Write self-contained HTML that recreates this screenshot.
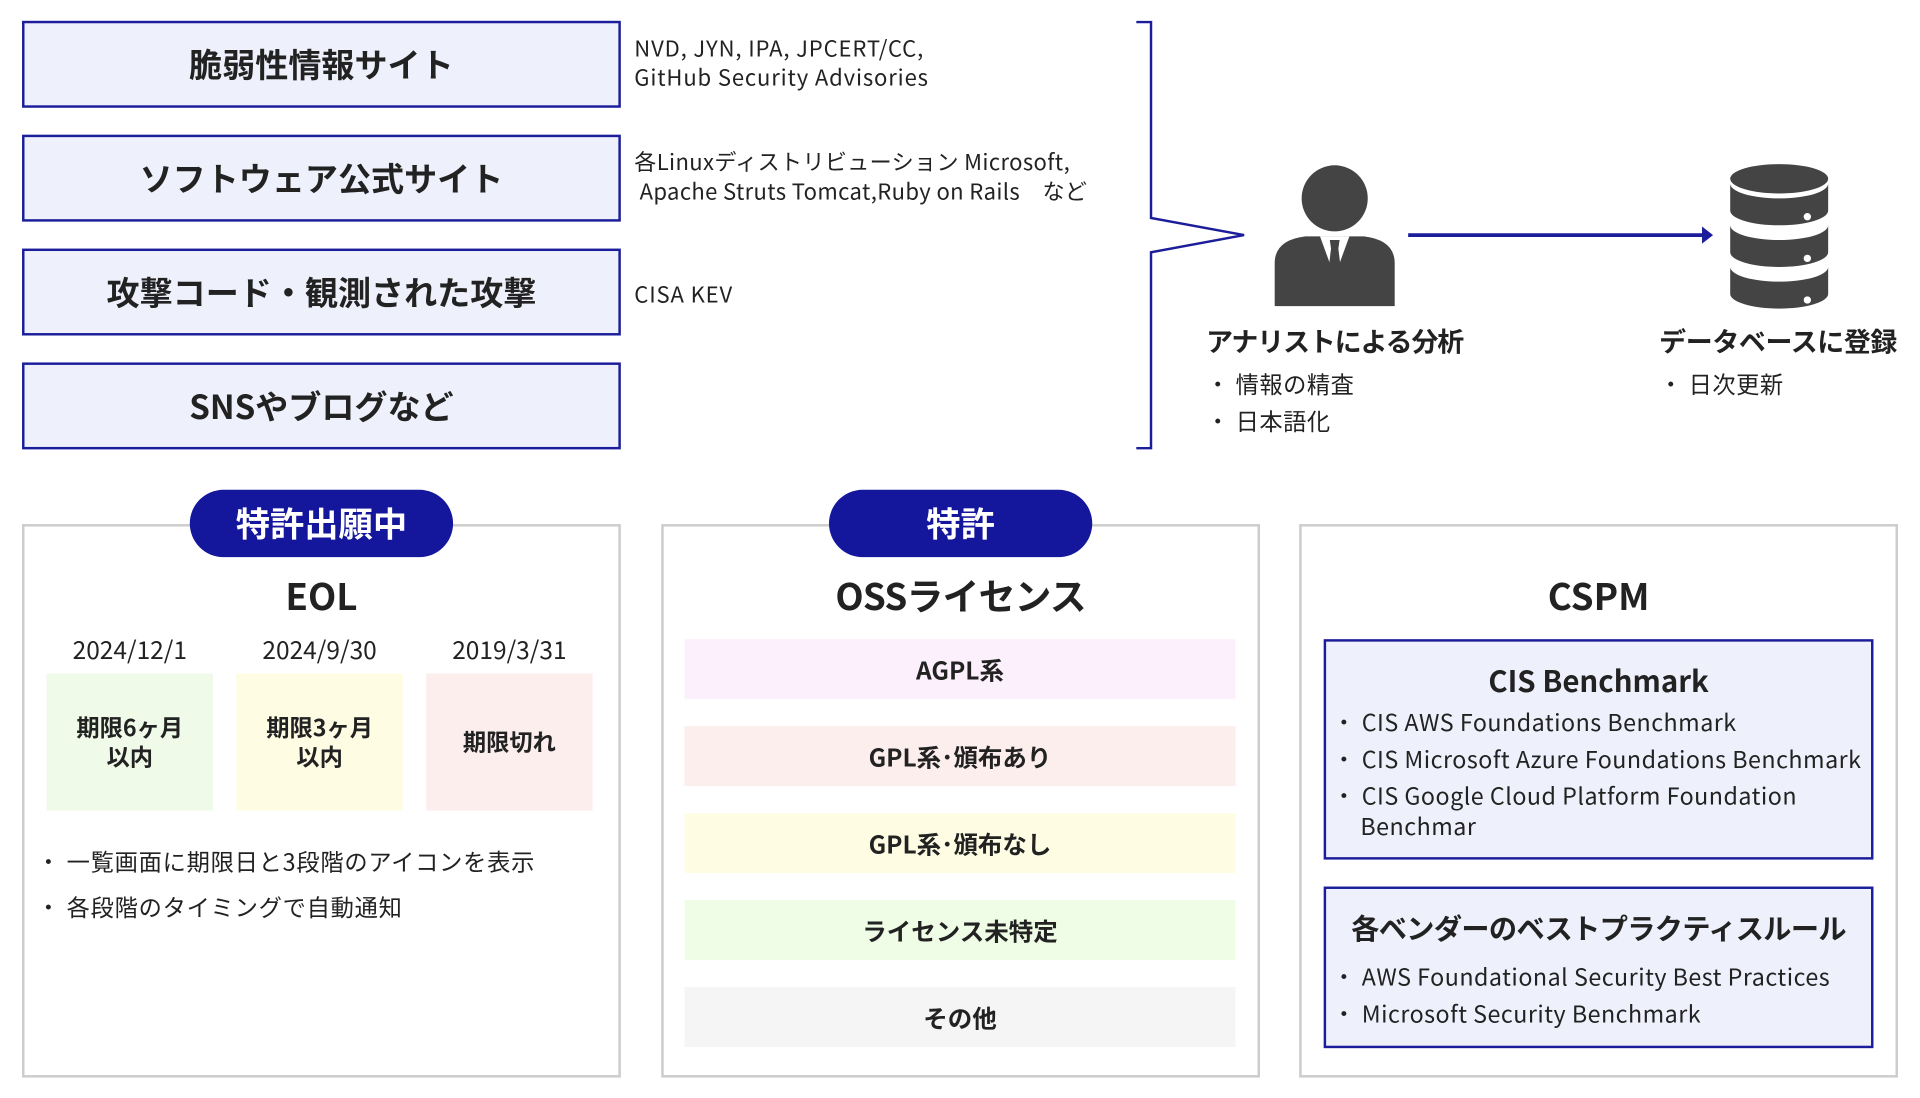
<!DOCTYPE html>
<html><head><meta charset="utf-8"><style>
*{margin:0;padding:0;box-sizing:border-box}
html,body{width:1920px;height:1098px;overflow:hidden;background:#fff}
#w{position:absolute;left:0;top:0;width:1568px;height:897px;transform:scale(1.22449);transform-origin:0 0;font-family:"Noto Sans CJK JP","Liberation Sans",sans-serif;color:#222;line-height:1.2}
.a{position:absolute}
.lb{position:absolute;left:18px;width:489px;height:71px;background:#eef0fb;border:2px solid #1b1d9a;display:flex;align-items:center;justify-content:center;font-weight:bold;font-size:27px;color:#222}
.src{position:absolute;left:518px;font-size:18px;line-height:24px;color:#222;letter-spacing:0.7px}
.panel{position:absolute;top:428px;width:489px;height:452px;border:2px solid #ccc}
.badge{position:absolute;top:400px;width:215px;height:55px;border-radius:28px;background:#14169c;color:#fff;font-weight:bold;font-size:28px;display:flex;align-items:center;justify-content:center}
.t{position:absolute;font-weight:bold;font-size:30px;text-align:center;width:489px;line-height:36px}
.c{display:flex;align-items:center;justify-content:center;text-align:center}
.eb{position:absolute;top:550px;height:112px;width:136px;font-weight:bold;font-size:19px;line-height:24px}
.ob{position:absolute;left:559px;width:450px;height:49px;font-weight:bold;font-size:20px}
.bl{position:absolute;font-size:19px;line-height:30px;letter-spacing:0.4px}
.cb{position:absolute;left:1081px;width:449px;border:2px solid #1b1d9a;background:#eef0fb}
</style></head><body><div id="w">
<div class="lb" style="top:17px">脆弱性情報サイト</div>
<div class="lb" style="top:110px">ソフトウェア公式サイト</div>
<div class="lb" style="top:203px">攻撃コード・観測された攻撃</div>
<div class="lb" style="top:296px">SNSやブログなど</div>
<div class="src" style="top:27px">NVD, JYN, IPA, JPCERT/CC,<br>GitHub Security Advisories</div>
<div class="src" style="top:120px;letter-spacing:0.3px">各Linuxディストリビューション Microsoft,<br>&nbsp;Apache Struts Tomcat,Ruby on Rails　など</div>
<div class="src" style="top:228px">CISA KEV</div>
<svg class="a" style="left:0;top:0" width="1568" height="897">
<polyline points="928,18 940,18 940,178 1016,192 940,206 940,366 928,366" fill="none" stroke="#1b1d9a" stroke-width="2"/>
<line x1="1150" y1="192" x2="1392" y2="192" stroke="#1b1d9a" stroke-width="3"/>
<polygon points="1399,192 1390,185 1390,199" fill="#1b1d9a"/>
<circle cx="1090" cy="162" r="27" fill="#444"/>
<path d="M1041,250 L1041,215 Q1041,196 1066,193 L1114,193 Q1139,196 1139,215 L1139,250 Z" fill="#444"/>
<polygon points="1078,193 1102,193 1090,226" fill="#fff"/>
<polygon points="1086,196 1094,196 1093,203 1096,228 1090,234 1084,228 1087,203" fill="#444"/>
<g fill="#444">
<ellipse cx="1453" cy="146" rx="40" ry="12"/>
<path d="M1413,150 v22 a40,12 0 0 0 80,0 v-22 a40,12 0 0 1 -80,0z"/>
<path d="M1413,184 v22 a40,12 0 0 0 80,0 v-22 a40,12 0 0 1 -80,0z"/>
<path d="M1413,218 v22 a40,12 0 0 0 80,0 v-22 a40,12 0 0 1 -80,0z"/>
</g>
<circle cx="1476" cy="177" r="3" fill="#fff"/><circle cx="1476" cy="211" r="3" fill="#fff"/><circle cx="1476" cy="245" r="3" fill="#fff"/>
</svg>
<div class="a" style="left:985px;top:264px;font-weight:bold;font-size:22px;line-height:28px;letter-spacing:-0.9px">アナリストによる分析</div>
<div class="bl" style="left:985px;top:299px">・ 情報の精査</div>
<div class="bl" style="left:985px;top:329px">・ 日本語化</div>
<div class="a" style="left:1355px;top:264px;font-weight:bold;font-size:22px;line-height:28px;letter-spacing:-0.3px">データベースに登録</div>
<div class="bl" style="left:1355px;top:299px">・ 日次更新</div>

<div class="panel" style="left:18px"></div>
<div class="panel" style="left:540px"></div>
<div class="panel" style="left:1061px"></div>
<div class="badge" style="left:155px">特許出願中</div>
<div class="badge" style="left:677px">特許</div>
<div class="t" style="left:18px;top:467px">EOL</div>
<div class="t" style="left:540px;top:467px;letter-spacing:-0.6px">OSSライセンス</div>
<div class="t" style="left:1061px;top:467px">CSPM</div>
<div class="a" style="left:38px;top:518px;width:136px;text-align:center;font-size:20px;line-height:24px">2024/12/1</div>
<div class="a" style="left:193px;top:518px;width:136px;text-align:center;font-size:20px;line-height:24px">2024/9/30</div>
<div class="a" style="left:348px;top:518px;width:136px;text-align:center;font-size:20px;line-height:24px">2019/3/31</div>
<div class="eb c" style="left:38px;background:#effbe8">期限6ヶ月<br>以内</div>
<div class="eb c" style="left:193px;background:#fefde4">期限3ヶ月<br>以内</div>
<div class="eb c" style="left:348px;background:#fdeeee">期限切れ</div>
<div class="bl" style="left:30px;top:689px;letter-spacing:0.6px">・ 一覧画面に期限日と3段階のアイコンを表示</div>
<div class="bl" style="left:30px;top:726px;letter-spacing:0.6px">・ 各段階のタイミングで自動通知</div>
<div class="ob c" style="top:522px;background:#fbf0fc">AGPL系</div>
<div class="ob c" style="top:593px;background:#fdeeee">GPL系･頒布あり</div>
<div class="ob c" style="top:664px;background:#fefde4">GPL系･頒布なし</div>
<div class="ob c" style="top:735px;background:#effde6">ライセンス未特定</div>
<div class="ob c" style="top:806px;background:#f5f5f5">その他</div>
<div class="cb" style="top:522px;height:180px"></div>
<div class="a" style="left:1081px;top:540px;width:449px;text-align:center;font-weight:bold;font-size:24px;line-height:30px">CIS Benchmark</div>
<div class="bl" style="left:1088px;top:575px;line-height:30px">・ CIS AWS Foundations Benchmark<br>・ CIS Microsoft Azure Foundations Benchmark<br>・ CIS Google Cloud Platform Foundation<br><span style="display:block;margin-top:-5px;padding-left:23px">Benchmar</span></div>
<div class="cb" style="top:724px;height:132px"></div>
<div class="a" style="left:1081px;top:742px;width:449px;text-align:center;font-weight:bold;font-size:23px;line-height:30px;letter-spacing:-0.5px">各ベンダーのベストプラクティスルール</div>
<div class="bl" style="left:1088px;top:783px">・ AWS Foundational Security Best Practices<br>・ Microsoft Security Benchmark</div>
</div></body></html>
